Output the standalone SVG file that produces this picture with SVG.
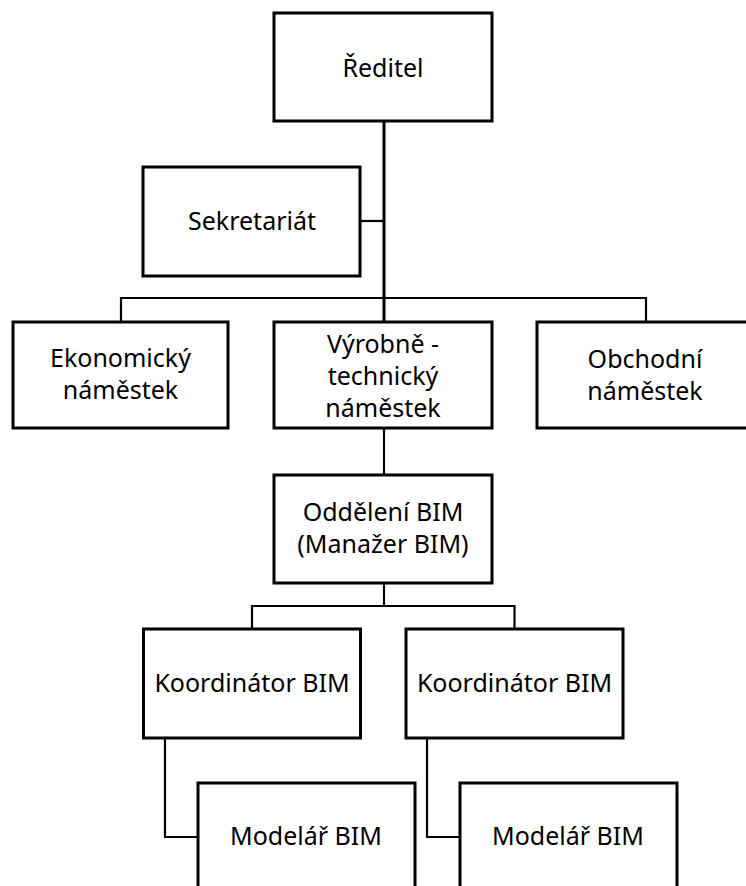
<svg xmlns="http://www.w3.org/2000/svg" width="746" height="886" viewBox="0 0 746 886">
<style>
.box{fill:#fff;stroke:#000;stroke-width:3}
.ln{fill:none;stroke:#000;stroke-width:2.2}
.main{fill:none;stroke:#000;stroke-width:3}
text{font-family:"Noto Sans","DejaVu Sans",sans-serif;font-size:25px;fill:#000;text-anchor:middle}
</style>
<rect width="746" height="886" fill="#fff"/>
<g id="connectors">
<path class="main" d="M384 121V322"/>
<path class="ln" d="M360 221H384"/>
<path class="ln" d="M121 322V298H646V322"/>
<path class="ln" d="M384 428V475"/>
<path class="ln" d="M384 583V606M252 629V606H514.5V629"/>
<path class="ln" d="M165 738V837H198"/>
<path class="ln" d="M427 738V837H460"/>
</g>
<g id="reditel"><rect class="box" x="274" y="13" width="218" height="108"/><text x="383" y="77">Ředitel</text></g>
<g id="sekretariat"><rect class="box" x="143" y="167" width="217" height="109"/><text x="252" y="230">Sekretariát</text></g>
<g id="ekonomicky"><rect class="box" x="13" y="322" width="215" height="106"/><text x="120.5" y="367">Ekonomický</text><text x="120.5" y="399">náměstek</text></g>
<g id="vyrobne"><rect class="box" x="274" y="322" width="218" height="106"/><text x="383" y="353">Výrobně -</text><text x="383" y="385">technický</text><text x="383" y="417">náměstek</text></g>
<g id="obchodni"><rect class="box" x="537" y="322" width="216" height="106"/><text x="645" y="368">Obchodní</text><text x="645" y="400">náměstek</text></g>
<g id="oddeleni"><rect class="box" x="274" y="475" width="218" height="108"/><text x="383" y="521">Oddělení BIM</text><text x="383" y="553">(Manažer BIM)</text></g>
<g id="koordinator1"><rect class="box" x="143.5" y="629" width="217" height="109"/><text x="252" y="692">Koordinátor BIM</text></g>
<g id="koordinator2"><rect class="box" x="406" y="629" width="217" height="109"/><text x="514.5" y="692">Koordinátor BIM</text></g>
<g id="modelar1"><rect class="box" x="198" y="783" width="217" height="108"/><text x="306" y="845">Modelář BIM</text></g>
<g id="modelar2"><rect class="box" x="460" y="783" width="217" height="108"/><text x="568" y="845">Modelář BIM</text></g>
</svg>
